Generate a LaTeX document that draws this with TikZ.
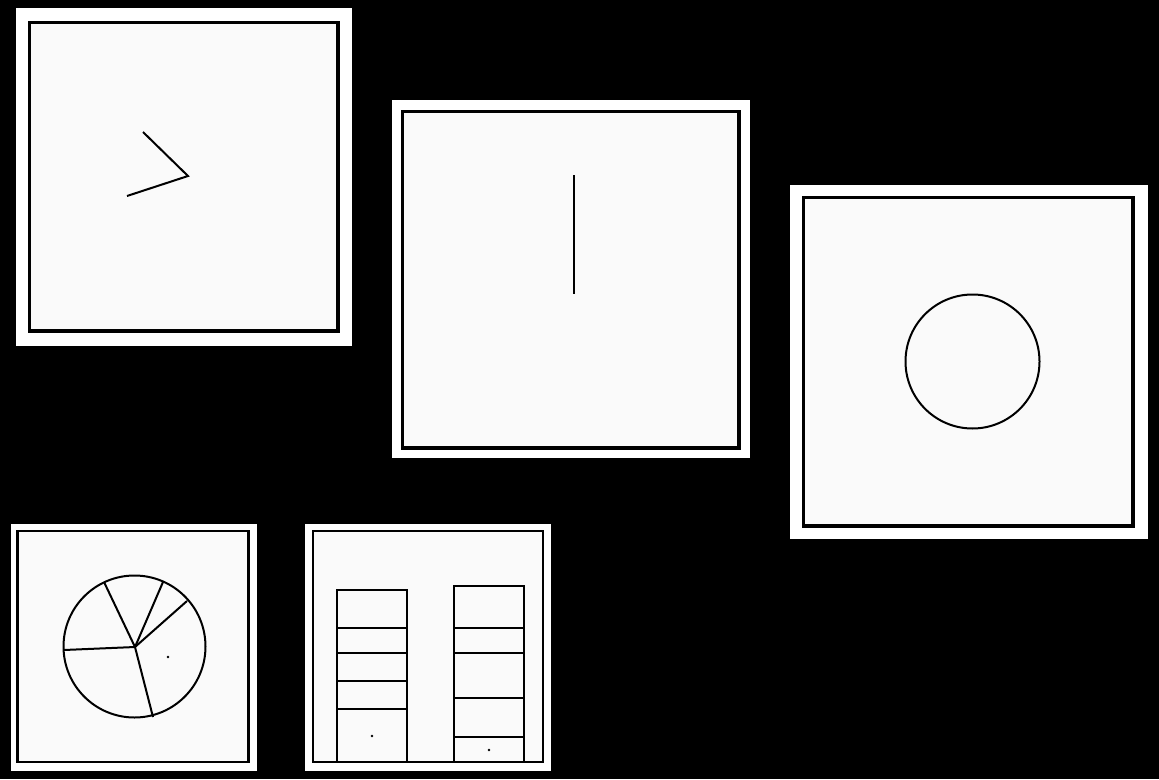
\documentclass[tikz,border=0pt]{standalone}
\begin{document}
\begin{tikzpicture}[x=1pt,y=-1pt,
  outerframe/.style={fill=white},
  innerframe/.style={draw=black,fill=black!2,line width=3.2pt},
  innerthin/.style={draw=black,fill=black!2,line width=2.6pt},
  stroke/.style={draw=black,line width=2pt,line join=miter},
  dotmark/.style={fill=black}]
\useasboundingbox[fill=black] (0,0) rectangle (1159,779);
% panel 1
\fill[outerframe] (16,8) rectangle (352,346);
\draw[innerframe] (29.5,22.5) rectangle (338,331);
\coordinate (a1) at (143,132);
\coordinate (a2) at (188,176);
\coordinate (a3) at (127,196);
\draw[stroke] (a1) -- (a2) -- (a3);
% panel 2
\fill[outerframe] (392,100) rectangle (750,458);
\draw[innerframe] (402.5,111.5) rectangle (739,448);
\coordinate (b1) at (574,175);
\coordinate (b2) at (574,294);
\draw[stroke,line width=2.7pt] (b1) -- (b2);
% panel 3
\fill[outerframe] (790,185) rectangle (1148,539);
\draw[innerframe] (803.5,197.5) rectangle (1133,526);
\coordinate (c0) at (972.5,361.5);
\draw[stroke] (c0) circle[radius=67];
% panel 4
\fill[outerframe] (11,524) rectangle (257,771);
\draw[innerthin] (17.5,531) rectangle (248.5,762);
\coordinate (d0) at (134.5,646.5);
\draw[stroke] (d0) circle[radius=71];
\coordinate (h) at (135,647);
\coordinate (s1) at (64,650);
\coordinate (s2) at (104,582);
\coordinate (s3) at (163,582);
\coordinate (s4) at (187,601);
\coordinate (s5) at (153,717);
\foreach \s in {s1,s2,s3,s4,s5} \draw[stroke] (h) -- (\s);
\fill[dotmark] (168,657) circle[radius=1.3];
% panel 5
\fill[outerframe] (305,524) rectangle (551,771);
\draw[innerthin] (313,531) rectangle (543,762);
\draw[stroke] (337,762) -- (337,590) -- (407,590) -- (407,762);
\foreach \y in {628,653,681,709} \draw[stroke] (337,\y) -- (407,\y);
\draw[stroke] (454,762) -- (454,586) -- (524,586) -- (524,762);
\foreach \y in {628,653,698,737} \draw[stroke] (454,\y) -- (524,\y);
\fill[dotmark] (372,736) circle[radius=1.3];
\fill[dotmark] (489,750) circle[radius=1.3];
\end{tikzpicture}
\end{document}
